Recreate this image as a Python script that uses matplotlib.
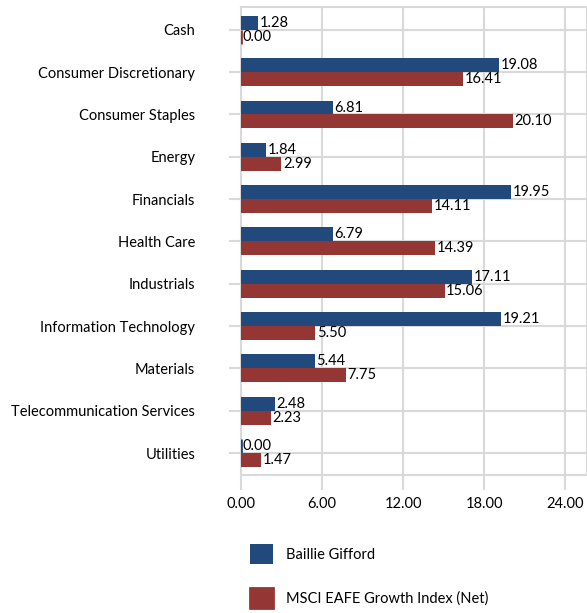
import numpy as np
import matplotlib.pyplot as plt

# --- data ---
categories = ["Cash", "Consumer Discretionary", "Consumer Staples", "Energy",
              "Financials", "Health Care", "Industrials", "Information Technology",
              "Materials", "Telecommunication Services", "Utilities"]
baillie = [1.28, 19.08, 6.81, 1.84, 19.95, 6.79, 17.11, 19.21, 5.44, 2.48, 0.00]
msci = [0.00, 16.41, 20.10, 2.99, 14.11, 14.39, 15.06, 5.50, 7.75, 2.23, 1.47]
xticks = [0, 6, 12, 18, 24]

blue = "#21497c"
red = "#943634"
grid = "#d9d9d9"

plt.rcParams["font.family"] = ["Lato", "DejaVu Sans"]

fig = plt.figure(figsize=(5.87, 6.13), dpi=100)
ax = fig.add_axes([0.4106, 0.225, 0.5894, 0.7636])

y = np.arange(len(categories))
h = 0.33
# zero values still get a thin sliver, like the original
b1 = ax.barh(y - h / 2, baillie, height=h, color=blue, edgecolor=blue, zorder=3,
             linewidth=[2 if v == 0 else 0 for v in baillie], label="Baillie Gifford")
b2 = ax.barh(y + h / 2, msci, height=h, color=red, edgecolor=red, zorder=3,
             linewidth=[2 if v == 0 else 0 for v in msci],
             label="MSCI EAFE Growth Index (Net)")

for bars, vals in ((b1, baillie), (b2, msci)):
    for bar, v in zip(bars, vals):
        ax.text(bar.get_width() + 0.12, bar.get_y() + bar.get_height() / 2,
                f"{v:.2f}", va="center", ha="left", fontsize=10.5, color="black")

ax.set_ylim(len(categories) - 0.48, -0.54)
ax.set_xlim(0, 25.6)
ax.set_yticks(y)
ax.set_yticklabels(categories, fontsize=10.5)
ax.set_xticks(xticks)
ax.set_xticklabels([f"{t:.2f}" for t in xticks], fontsize=10.5)

ax.grid(True, color=grid, linewidth=1.5)
ax.set_axisbelow(True)
for s in ax.spines.values():
    s.set_color(grid)
    s.set_linewidth(1.5)
ax.tick_params(axis="y", length=9, color=grid, width=1.5, pad=24)
ax.tick_params(axis="x", length=11, color=grid, width=1.5, pad=5)

fig.legend(handles=[b1, b2], loc="upper left", bbox_to_anchor=(0.403, 0.134),
           frameon=False, fontsize=10.5, handlelength=1.6, handleheight=1.7,
           labelspacing=1.7, handletextpad=0.9)

plt.savefig("out.png", dpi=100)
plt.close()
